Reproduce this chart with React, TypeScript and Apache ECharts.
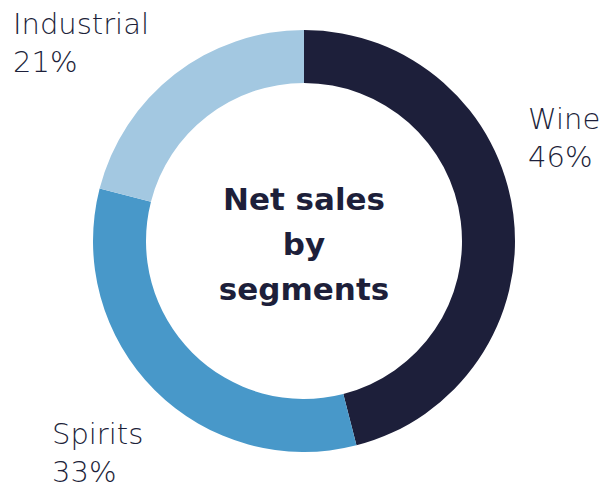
import React, { useEffect, useRef } from "react";
import * as echarts from "echarts";

const segments = ["Wine", "Spirits", "Industrial"];
const shares = [46, 33, 21];
const colors = ["#1d1f3a", "#4898c9", "#a3c8e1"];
const centerTitle = "Net sales\nby\nsegments";

// label anchor (top-left) for each segment, in px
const labelAnchors: Record<string, [number, number]> = {
  Wine: [528, 100],
  Spirits: [52, 415],
  Industrial: [13, 5],
};

export default function App() {
  const ref = useRef<HTMLDivElement>(null);

  useEffect(() => {
    if (!ref.current) return;
    const chart = echarts.init(ref.current, undefined, { renderer: "svg" });
    const textColor = "#1d1f3a";
    chart.setOption({
      animation: false,
      backgroundColor: "#ffffff",
      graphic: [
        {
          type: "text",
          x: 304,
          y: 244,
          style: {
            text: centerTitle,
            fill: textColor,
            font: "bold 31px 'DejaVu Sans', sans-serif",
            lineHeight: 45,
            align: "center",
            verticalAlign: "middle",
          },
        },
      ],
      series: [
        {
          type: "pie",
          center: [304, 241],
          radius: [158, 211],
          startAngle: 90,
          clockwise: true,
          avoidLabelOverlap: false,
          itemStyle: { borderWidth: 0 },
          emphasis: { disabled: true },
          label: {
            show: true,
            position: "outside",
            formatter: (p: any) => `${p.name}\n${p.value}%`,
            color: textColor,
            fontFamily: "'DejaVu Sans', sans-serif",
            fontSize: 29,
            fontWeight: 200,
            lineHeight: 38,
            align: "left",
          },
          labelLine: { show: false },
          labelLayout: (params: any) => {
            const name = segments[params.dataIndex];
            const [x, y] = labelAnchors[name];
            return { x, y, align: "left", verticalAlign: "top" };
          },
          data: segments.map((name, i) => ({
            name,
            value: shares[i],
            itemStyle: { color: colors[i] },
          })),
        },
      ],
    });
    return () => chart.dispose();
  }, []);

  return (
    <div
      ref={ref}
      style={{ position: "fixed", left: 0, top: 0, width: 607, height: 488 }}
    />
  );
}
